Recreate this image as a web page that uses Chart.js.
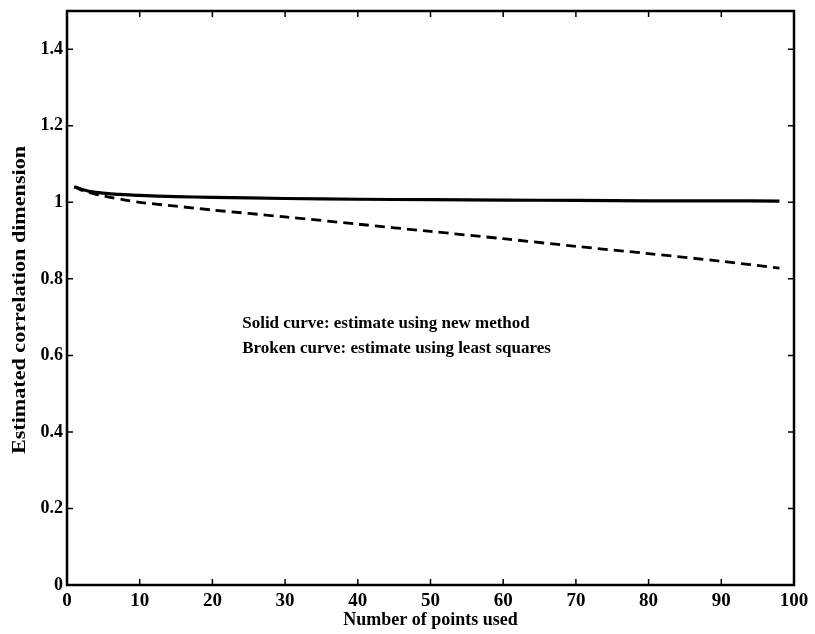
<!DOCTYPE html>
<html>
<head>
<meta charset="utf-8">
<script src="https://cdn.jsdelivr.net/npm/chart.js@4"></script>
<style>
  html,body{margin:0;padding:0;background:#fff;}
  #wrap{width:815px;height:634px;}
</style>
</head>
<body>
<div id="wrap"><canvas id="chart" width="815" height="634"></canvas></div>
<script>
/* data */
const pointsUsed   = [1, 2, 3, 4, 5, 6, 8, 10, 15, 20, 30, 40, 50, 60, 70, 80, 90, 98];
const newMethod    = [1.041, 1.034, 1.029, 1.026, 1.024, 1.022, 1.020, 1.018, 1.015, 1.013, 1.010, 1.008, 1.007, 1.006, 1.005, 1.004, 1.004, 1.003];
const leastSquares = [1.041, 1.032, 1.026, 1.021, 1.017, 1.013, 1.006, 1.000, 0.990, 0.980, 0.962, 0.943, 0.924, 0.905, 0.885, 0.866, 0.846, 0.828];
const xTicks = [0, 10, 20, 30, 40, 50, 60, 70, 80, 90, 100];
const yTicks = [0, 0.2, 0.4, 0.6, 0.8, 1, 1.2, 1.4];
const yTitle = 'Estimated correlation dimension';
const notes = ['Solid curve: estimate using new method', 'Broken curve: estimate using least squares'];

const SERIF = '"Liberation Serif","DejaVu Serif",serif';

/* MATLAB-style frame: full box + inward ticks on all sides */
const boxTicks = {
  id: 'boxTicks',
  afterDraw(chart){
    const {ctx, chartArea:a, scales:{x, y}} = chart;
    const len = 6;
    ctx.save();
    ctx.strokeStyle = '#000';
    ctx.lineWidth = 2.5;
    ctx.strokeRect(a.left, a.top, a.right - a.left, a.bottom - a.top);
    ctx.lineWidth = 1.5;
    ctx.beginPath();
    xTicks.forEach(v => {
      const px = x.getPixelForValue(v);
      ctx.moveTo(px, a.bottom); ctx.lineTo(px, a.bottom - len);
      ctx.moveTo(px, a.top); ctx.lineTo(px, a.top + len);
    });
    yTicks.forEach(v => {
      const py = y.getPixelForValue(v);
      ctx.moveTo(a.left, py); ctx.lineTo(a.left + len, py);
      ctx.moveTo(a.right, py); ctx.lineTo(a.right - len, py);
    });
    ctx.stroke();

    ctx.fillStyle = '#000';

    // y title, drawn by hand so it can be stretched along its length
    ctx.save();
    ctx.font = 'bold 18px ' + SERIF;
    ctx.textAlign = 'center';
    ctx.textBaseline = 'middle';
    ctx.translate(20, (a.top + a.bottom) / 2 + 2);
    ctx.rotate(-Math.PI / 2);
    const w = ctx.measureText(yTitle).width;
    ctx.scale(308 / w, 1);
    ctx.fillText(yTitle, 0, 0);
    ctx.restore();

    // legend text inside the axes
    ctx.font = 'bold 17px ' + SERIF;
    ctx.textBaseline = 'middle';
    ctx.textAlign = 'left';
    const tx = x.getPixelForValue(24.1);
    ctx.fillText(notes[0], tx, y.getPixelForValue(0.683));
    ctx.fillText(notes[1], tx, y.getPixelForValue(0.618));
    ctx.restore();
  }
};

new Chart(document.getElementById('chart'), {
  type: 'line',
  data: {
    datasets: [
      {
        label: 'new method',
        data: pointsUsed.map((p, i) => ({x: p, y: newMethod[i]})),
        borderColor: '#000', borderWidth: 3.2, pointRadius: 0, tension: 0.3, fill: false
      },
      {
        label: 'least squares',
        data: pointsUsed.map((p, i) => ({x: p, y: leastSquares[i]})),
        borderColor: '#000', borderWidth: 2.8, borderDash: [10, 6], pointRadius: 0, tension: 0.3, fill: false
      }
    ]
  },
  plugins: [boxTicks],
  options: {
    responsive: false,
    animation: false,
    layout: {padding: {left: 0, right: 21, top: 11, bottom: 0}},
    plugins: {legend: {display: false}, tooltip: {enabled: false}},
    scales: {
      x: {
        type: 'linear', min: 0, max: 100,
        afterBuildTicks: s => { s.ticks = xTicks.map(v => ({value: v})); },
        afterFit: s => { s.height = 49; s.paddingLeft = 0; s.paddingRight = 0; },
        grid: {display: false, drawTicks: false},
        border: {display: false},
        ticks: {color: '#000', padding: 5, maxRotation: 0, font: {family: SERIF, size: 19, weight: 'bold'}},
        title: {display: true, text: 'Number of points used', color: '#000', padding: {top: 0, bottom: 3},
                font: {family: SERIF, size: 18, weight: 'bold'}}
      },
      y: {
        type: 'linear', min: 0, max: 1.5,
        afterBuildTicks: s => { s.ticks = yTicks.map(v => ({value: v})); },
        afterFit: s => { s.width = 67; s.paddingTop = 0; s.paddingBottom = 0; },
        grid: {display: false, drawTicks: false},
        border: {display: false},
        ticks: {color: '#000', padding: 4, font: {family: SERIF, size: 18, weight: 'bold'},
                callback: v => String(Math.round(v * 10) / 10)},
        title: {display: false}
      }
    }
  }
});
</script>
</body>
</html>
